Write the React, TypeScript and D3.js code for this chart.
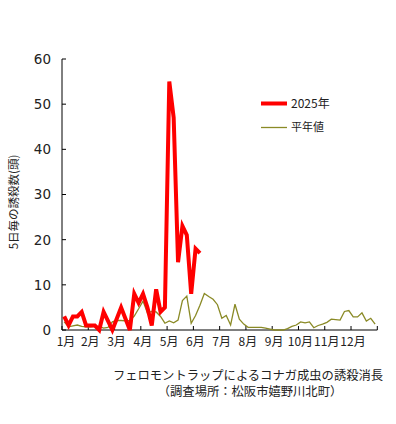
import React, { useEffect, useRef } from "react";
import * as d3 from "d3";

// 5-day periods: 6 per month, 72 per year
const months = ["1月", "2月", "3月", "4月", "5月", "6月", "7月", "8月", "9月", "10月", "11月", "12月"];
const yTicks = [0, 10, 20, 30, 40, 50, 60];

const catch2025 = [
  3, 1, 3, 3, 4, 1, 1, 1, 0, 4, 2, 0,
  2.5, 5, 2.5, 0, 8, 6, 8, 5, 1, 9, 4, 5,
  55, 47, 15, 23, 21, 8, 18, 17,
];

const normalYear = [
  1.8, 0.7, 0.9, 1.1, 0.8, 0.7, 0.7, 0.8, 0.8, 0.4, 0.6, 1.8,
  2.1, 2.1, 2.0, 2.1, 3.1, 4.7, 6.4, 3.8, 4.1, 4.0, 3.0, 1.5,
  2.0, 1.6, 2.2, 6.5, 7.5, 1.5, 3.2, 5.5, 8.1, 7.4, 6.8, 5.6,
  2.6, 3.2, 1.1, 5.7, 2.4, 1.3, 0.6, 0.6, 0.6, 0.6, 0.4, 0.2,
  0, 0, 0, 0.3, 0.8, 1.1, 1.8, 1.6, 1.8, 0.5, 1.0, 1.3,
  1.7, 2.4, 2.3, 2.2, 4.1, 4.3, 2.9, 2.9, 3.8, 2.0, 2.6, 1.3,
];

const legendItems = [
  { label: "2025年", color: "#ff0000", width: 4, size: 12 },
  { label: "平年値", color: "#8a8a26", width: 1.3, size: 11 },
];

const font = "'Noto Sans CJK JP', 'Noto Sans', sans-serif";

export default function App() {
  const ref = useRef<SVGSVGElement>(null);

  useEffect(() => {
    const svg = d3.select(ref.current);
    svg.selectAll("*").remove();

    const left = 62;
    const right = 377.3;
    const top = 59;
    const bottom = 330;

    const x = d3.scaleLinear().domain([0, 72]).range([left, right]);
    const y = d3.scaleLinear().domain([0, 60]).range([bottom, top]);

    // y axis
    svg.append("line")
      .attr("x1", left).attr("x2", left)
      .attr("y1", top).attr("y2", bottom)
      .attr("stroke", "#000");
    svg.selectAll(".ytick")
      .data(yTicks)
      .enter()
      .append("line")
      .attr("x1", left).attr("x2", left + 4)
      .attr("y1", (d) => y(d)).attr("y2", (d) => y(d))
      .attr("stroke", "#000");
    svg.selectAll(".ylabel")
      .data(yTicks)
      .enter()
      .append("text")
      .attr("x", 51)
      .attr("y", (d) => y(d))
      .attr("dy", "0.36em")
      .attr("text-anchor", "end")
      .style("font-family", "'DejaVu Sans', sans-serif")
      .style("font-size", "13.5px")
      .style("fill", "#222")
      .text((d) => d);

    // x axis
    svg.append("line")
      .attr("x1", left).attr("x2", right)
      .attr("y1", bottom).attr("y2", bottom)
      .attr("stroke", "#000");
    svg.selectAll(".xtick")
      .data(d3.range(0, 73, 6))
      .enter()
      .append("line")
      .attr("x1", (d) => x(d)).attr("x2", (d) => x(d))
      .attr("y1", bottom - 4).attr("y2", bottom)
      .attr("stroke", "#000");
    svg.selectAll(".xlabel")
      .data(months)
      .enter()
      .append("text")
      .attr("x", (d, i) => x(i * 6) + (i === 0 ? 4 : 2))
      .attr("y", 346)
      .attr("text-anchor", "middle")
      .style("font-family", font)
      .style("font-size", "12px")
      .style("fill", "#222")
      .text((d) => d);

    // y title
    svg.append("text")
      .attr("transform", "translate(18,202) rotate(-90)")
      .attr("text-anchor", "middle")
      .style("font-family", font)
      .style("font-size", "11.5px")
      .style("fill", "#222")
      .text("5日毎の誘殺数(頭)");

    const line = d3.line<number>()
      .x((d, i) => x(i + 0.5))
      .y((d) => y(d));

    svg.append("path")
      .datum(normalYear)
      .attr("d", line)
      .attr("fill", "none")
      .attr("stroke", legendItems[1].color)
      .attr("stroke-width", legendItems[1].width);

    svg.append("path")
      .datum(catch2025)
      .attr("d", line)
      .attr("fill", "none")
      .attr("stroke", legendItems[0].color)
      .attr("stroke-width", legendItems[0].width)
      .attr("stroke-linejoin", "miter");

    // legend
    const lg = svg.selectAll(".legend")
      .data(legendItems)
      .enter()
      .append("g")
      .attr("transform", (d, i) => `translate(260,${103.5 + i * 24})`);
    lg.append("line")
      .attr("x1", 1).attr("x2", 27)
      .attr("stroke", (d) => d.color)
      .attr("stroke-width", (d) => d.width);
    lg.append("text")
      .attr("x", 31)
      .attr("dy", "0.36em")
      .style("font-family", font)
      .style("font-size", (d) => d.size + "px")
      .style("fill", "#222")
      .text((d) => d.label);

    // caption
    svg.append("text")
      .attr("x", 248).attr("y", 379.5)
      .attr("text-anchor", "middle")
      .style("font-family", font)
      .style("font-size", "12.3px")
      .style("fill", "#222")
      .text("フェロモントラップによるコナガ成虫の誘殺消長");
    svg.append("text")
      .attr("x", 250).attr("y", 396)
      .attr("text-anchor", "middle")
      .style("font-family", font)
      .style("font-size", "12.3px")
      .style("fill", "#222")
      .text("（調査場所：松阪市嬉野川北町）");
  }, []);

  return (
    <svg
      ref={ref}
      width={396}
      height={424}
      style={{ position: "absolute", left: 0, top: 0, background: "#fff" }}
    ></svg>
  );
}
